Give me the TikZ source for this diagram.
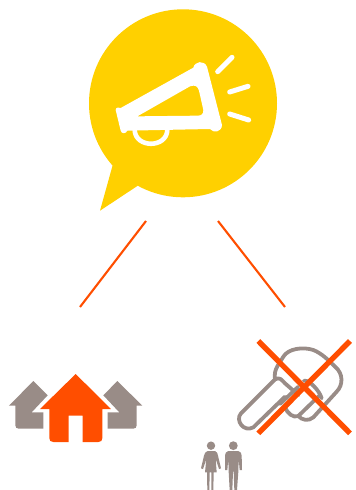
\documentclass[tikz,border=0pt]{standalone}
\definecolor{bub}{HTML}{FFD000}
\definecolor{org}{HTML}{FF4E00}
\definecolor{gry}{HTML}{998C87}
\tikzset{
 conn/.style={draw=org,line width=2.1pt},
 ray/.style={draw=white,line width=5pt,line cap=round},
 cross/.style={draw=org,line width=5.4pt},
 keyline/.style={draw=gry,line width=3.8pt,line join=round,line cap=round}
}
\begin{document}
\begin{tikzpicture}[x=1pt,y=-1pt]
\useasboundingbox (0,0) rectangle (356,490);
% bubble
\fill[bub] (183,103.3) circle[radius=94];
\fill[bub] (113,164) -- (100,210.7) -- (137.3,186) -- (150,170) -- cycle;
% megaphone
\begin{scope}[shift={(80,0)},x=1/3*1pt,y=-1/3*1pt]
\draw[white,line width=4.6pt] (164,390) .. controls (166,445) and (260,445) .. (262,390);
\fill[white,even odd rule] (107,330) .. controls (107,322) and (118,320) .. (122,324) -- (340,203) .. controls (345,183) and (372,180) .. (381,200) -- (426,375) .. controls (425,397) and (400,400) .. (390,387) -- (142,392) .. controls (138,402) and (124,402) .. (122,392) -- cycle
 (172,349) -- (330,259) .. controls (345,254) and (353,258) .. (357,272) -- (370,330) .. controls (370,342) and (365,347) .. (352,347) -- cycle;
\draw[ray] (413,215) -- (456,172);
\draw[ray] (449,276) -- (504,259);
\draw[ray] (449,342) -- (506,360);
\end{scope}
% connectors
\coordinate (a1) at (146,221); \coordinate (a2) at (80,307);
\coordinate (b1) at (218,221); \coordinate (b2) at (285,307);
\draw[conn] (a1) -- (a2);
\draw[conn] (b1) -- (b2);
% houses
\begin{scope}[shift={(0,365)},x=1/3*1pt,y=-1/3*1pt]
\fill[gry] (100,48) -- (143,91) -- (95,142) -- (130,142) -- (130,191) -- (56,191) .. controls (50,191) and (46,187) .. (46,181) -- (46,122) -- (27,122) -- cycle;
\fill[gry] (352,48) -- (427,122) -- (410,122) -- (410,181) .. controls (410,187) and (406,191) .. (400,191) -- (323,191) -- (323,142) -- (358,142) -- (310,91) -- cycle;
\fill[org] (227,27) -- (333,132) -- (307,132) -- (307,219) .. controls (307,227) and (303,231) .. (295,231) -- (248,231) -- (248,152) -- (206,152) -- (206,231) -- (160,231) .. controls (152,231) and (148,227) .. (148,219) -- (148,132) -- (120,132) -- cycle;
\end{scope}
% key
\begin{scope}[shift={(230,330)},x=1/3*1pt,y=-1/3*1pt]
\draw[keyline] (135,148) .. controls (130,115) and (150,100) .. (160,80) .. controls (175,55) and (220,50) .. (250,60) .. controls (275,70) and (295,90) .. (315,110) .. controls (340,130) and (340,165) .. (320,185) -- (250,262) .. controls (235,275) and (215,270) .. (205,258) .. controls (190,265) and (172,250) .. (165,232);
\draw[keyline] (135,148) -- (33,250) .. controls (15,270) and (40,308) .. (70,292) -- (165,200);
\draw[keyline] (135,148) .. controls (150,140) and (155,150) .. (165,160) -- (205,195);
\draw[keyline] (205,258) -- (270,195);
\draw[keyline] (222,152) .. controls (240,150) and (270,185) .. (275,205);
\draw[keyline] (150,222) -- (205,170);
\coordinate (c1) at (85,33); \coordinate (c2) at (360,310);
\coordinate (c3) at (360,33); \coordinate (c4) at (85,310);
\draw[cross] (c1) -- (c2);
\draw[cross] (c3) -- (c4);
\end{scope}
% people
\begin{scope}[shift={(195,435)},x=1/3*1pt,y=-1/3*1pt]
\fill[gry] (48,32) circle[radius=4.2pt];
\fill[gry] (38,48) -- (60,48) .. controls (66,50) and (68,55) .. (69,62) -- (78,100) -- (72,102) -- (62,72) -- (65,112) -- (56,112) -- (55,165) -- (49,165) -- (49,112) -- (44,112) -- (43,165) -- (37,165) -- (36,112) -- (30,112) -- (34,72) -- (24,102) -- (18,100) -- (27,62) .. controls (28,55) and (32,50) .. (38,48) -- cycle;
\fill[gry] (115,32) circle[radius=4.4pt];
\fill[gry] (100,48) -- (130,48) .. controls (137,50) and (140,55) .. (140,62) -- (141,105) -- (134,105) -- (131,70) -- (130,110) -- (126,165) -- (118,165) -- (116,110) -- (114,110) -- (112,165) -- (104,165) -- (101,110) -- (100,70) -- (97,105) -- (90,105) -- (90,62) .. controls (90,55) and (93,50) .. (100,48) -- cycle;
\end{scope}
\end{tikzpicture}
\end{document}
